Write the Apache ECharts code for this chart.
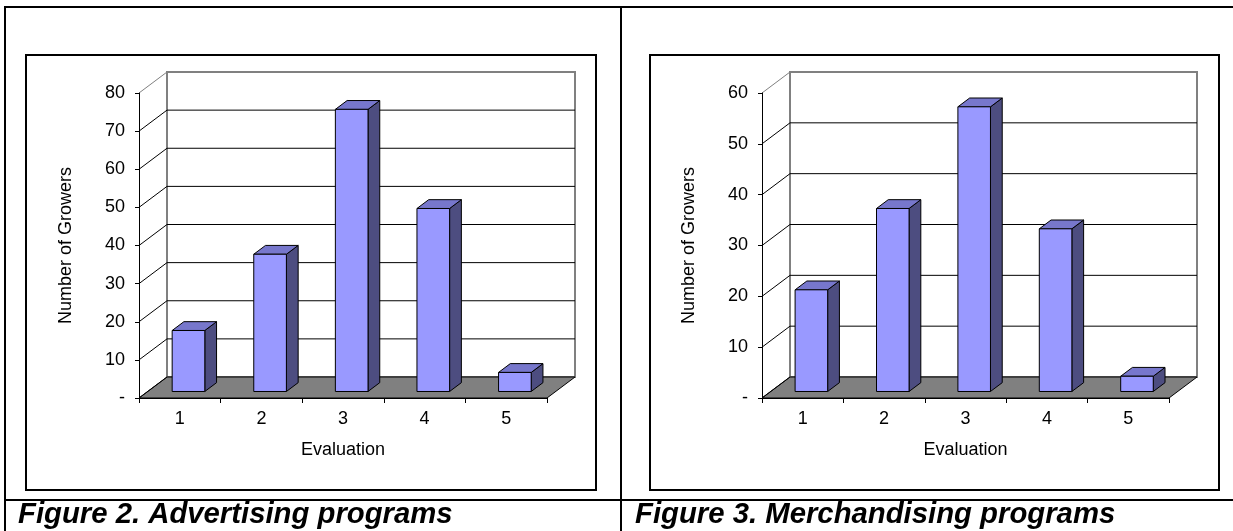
<!DOCTYPE html>
<html><head><meta charset="utf-8">
<script src="https://cdn.jsdelivr.net/npm/echarts@6/dist/echarts.min.js"></script>
<style>html,body{margin:0;padding:0;background:#fff}#c{width:1233px;height:531px}</style>
</head><body><div id="c"></div>
<script>
const categories = ['1', '2', '3', '4', '5'];
const advertising = [16, 36, 74, 48, 5];
const merchandising = [20, 36, 56, 32, 3];
const advTicks = [0, 10, 20, 30, 40, 50, 60, 70, 80];
const merTicks = [0, 10, 20, 30, 40, 50, 60];
const captions = ['Figure 2. Advertising programs', 'Figure 3. Merchandising programs'];
const xTitle = 'Evaluation';
const yTitle = 'Number of Growers';

const DX = 28, DY = -21;      // 3D depth offset (pixels)
const F0 = 0.31, F1 = 0.73;   // bar depth fractions
const FONT = '"Liberation Sans", Arial, Helvetica, sans-serif';
const nCat = categories.length;

function frame(maxV) {
  return function (params, api) {
    const p0 = api.coord([0, 0]);
    const pm = api.coord([0, maxV]);
    const cw = api.size([1, 0])[0];
    const xl = p0[0] - cw / 2, xr = xl + cw * nCat, y0 = p0[1], ym = pm[1];
    return { type: 'group', children: [
      { type: 'rect', shape: { x: xl + DX, y: ym + DY, width: xr - xl, height: y0 - ym },
        style: { fill: '#fff', stroke: '#808080', lineWidth: 2 } },
      { type: 'polygon', shape: { points: [[xl, y0], [xr, y0], [xr + DX, y0 + DY], [xl + DX, y0 + DY]] },
        style: { fill: '#808080', stroke: '#000', lineWidth: 1 } }
    ]};
  };
}

function wallLines(maxV) {
  return function (params, api) {
    const v = api.value(1);
    const p = api.coord([0, v]);
    const cw = api.size([1, 0])[0];
    const xl = p[0] - cw / 2, xr = xl + cw * nCat, y = p[1];
    const top = v === maxV;
    const ch = [{ type: 'line', shape: { x1: xl, y1: y, x2: xl + DX, y2: y + DY },
      style: { stroke: top ? '#808080' : '#000', lineWidth: 1 } }];
    if (v !== 0 && !top) {
      ch.push({ type: 'line', shape: { x1: xl + DX, y1: y + DY, x2: xr + DX, y2: y + DY },
        style: { stroke: '#000', lineWidth: 1 } });
    }
    return { type: 'group', children: ch };
  };
}

function bar3d(params, api) {
  const c = api.coord([api.value(0), api.value(1)]);
  const b = api.coord([api.value(0), 0]);
  const cw = api.size([1, 0])[0];
  const w = cw * 0.4;
  const ox = F0 * DX, oy = F0 * DY, ddx = (F1 - F0) * DX, ddy = (F1 - F0) * DY;
  const xl = c[0] - w / 2 + ox, xr = c[0] + w / 2 + ox, yt = c[1] + oy, yb = b[1] + oy;
  return { type: 'group', children: [
    { type: 'polygon', shape: { points: [[xr, yt], [xr + ddx, yt + ddy], [xr + ddx, yb + ddy], [xr, yb]] },
      style: { fill: '#4D4D80', stroke: '#000', lineWidth: 1 } },
    { type: 'polygon', shape: { points: [[xl, yt], [xr, yt], [xr + ddx, yt + ddy], [xl + ddx, yt + ddy]] },
      style: { fill: '#7777CC', stroke: '#000', lineWidth: 1 } },
    { type: 'rect', shape: { x: xl, y: yt, width: w, height: yb - yt },
      style: { fill: '#9999FF', stroke: '#000', lineWidth: 1 } }
  ]};
}

function xAxisCfg(i) {
  return {
    type: 'category', gridIndex: i, data: categories, boundaryGap: true, z: 5,
    axisLine: { lineStyle: { color: '#000', width: 1 } },
    axisTick: { show: true, length: 5, lineStyle: { color: '#000' } },
    axisLabel: { color: '#000', fontSize: 18, fontFamily: FONT, margin: 12 },
    name: xTitle, nameLocation: 'middle', nameGap: 43,
    nameTextStyle: { color: '#000', fontSize: 18, fontFamily: FONT }
  };
}
function yAxisCfg(i, maxV) {
  return {
    type: 'value', gridIndex: i, min: 0, max: maxV, interval: 10, z: 5,
    axisLine: { show: true, lineStyle: { color: '#000', width: 1 } },
    axisTick: { show: true, length: 4, lineStyle: { color: '#000' } },
    splitLine: { show: false },
    axisLabel: { color: '#000', fontSize: 18, fontFamily: FONT, margin: 14,
      formatter: v => (v === 0 ? '-' : String(v)) },
    name: yTitle, nameLocation: 'middle', nameGap: 64, nameRotate: 90,
    nameTextStyle: { color: '#000', fontSize: 18, fontFamily: FONT }
  };
}

const sets = [
  { vals: advertising, ticks: advTicks, max: 80 },
  { vals: merchandising, ticks: merTicks, max: 60 }
];
const series = [];
sets.forEach((s, i) => {
  series.push({ type: 'custom', xAxisIndex: i, yAxisIndex: i, z: 1, clip: false, silent: true,
    renderItem: frame(s.max), data: [[0, 0]] });
  series.push({ type: 'custom', xAxisIndex: i, yAxisIndex: i, z: 2, clip: false, silent: true,
    renderItem: wallLines(s.max), data: s.ticks.map(t => [0, t]) });
  series.push({ type: 'custom', xAxisIndex: i, yAxisIndex: i, z: 3, clip: false,
    renderItem: bar3d, data: s.vals.map((v, k) => [k, v]) });
});

const L = (x1, y1, x2, y2) => ({ type: 'line', shape: { x1, y1, x2, y2 }, style: { stroke: '#000', lineWidth: 2 }, z: 10 });
const option = {
  animation: false,
  backgroundColor: '#fff',
  grid: [
    { left: 139, top: 93, width: 408, height: 305 },
    { left: 762, top: 93, width: 407, height: 305 }
  ],
  xAxis: [xAxisCfg(0), xAxisCfg(1)],
  yAxis: [yAxisCfg(0, 80), yAxisCfg(1, 60)],
  series: series,
  graphic: [
    L(4, 7, 1233, 7), L(5, 6, 5, 531), L(621, 6, 621, 531), L(4, 500, 1233, 500),
    { type: 'rect', shape: { x: 26, y: 55, width: 570, height: 435 }, style: { fill: null, stroke: '#000', lineWidth: 2 }, z: 10 },
    { type: 'rect', shape: { x: 650, y: 55, width: 569, height: 435 }, style: { fill: null, stroke: '#000', lineWidth: 2 }, z: 10 },
    { type: 'text', x: 18, y: 515, z: 10, style: { text: captions[0], fill: '#000', font: 'italic bold 29.3px ' + FONT, verticalAlign: 'middle' } },
    { type: 'text', x: 635, y: 515, z: 10, style: { text: captions[1], fill: '#000', font: 'italic bold 29.3px ' + FONT, verticalAlign: 'middle' } }
  ]
};
const chart = echarts.init(document.getElementById('c'), null, { renderer: 'canvas' });
chart.setOption(option);
</script>
</body></html>
